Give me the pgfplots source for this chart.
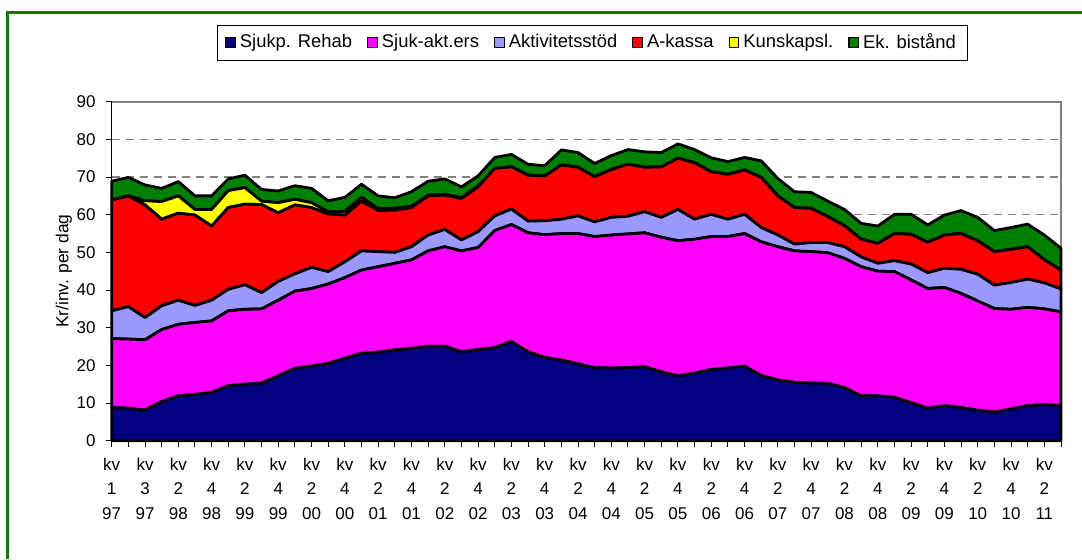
\documentclass[border=0pt]{standalone}
\usepackage{fontspec}
\setmainfont{Liberation Sans}
\usepackage{pgfplots}
\usepackage{pgfplotstable}
\pgfplotsset{compat=1.18}

\definecolor{cNavy}{RGB}{0,0,128}
\definecolor{cMag}{RGB}{255,0,255}
\definecolor{cLav}{RGB}{153,153,255}
\definecolor{cRed}{RGB}{255,0,0}
\definecolor{cYel}{RGB}{255,255,0}
\definecolor{cGrn}{RGB}{0,128,0}
\definecolor{cFrame}{RGB}{0,128,0}

\pgfplotstableread{
i sr sa ak ka ku eb
0 8.9 18.2 7.4 29.4 0 5.0
1 8.6 18.4 8.6 29.4 0 4.9
2 8.1 18.7 5.9 29.9 1.1 4.2
3 10.4 19.1 6.3 23.0 4.7 3.5
4 11.9 19.0 6.4 23.1 4.6 3.8
5 12.3 19.1 4.5 24.0 1.5 3.6
6 12.8 19.0 5.5 19.7 4.4 3.6
7 14.6 19.9 5.7 21.7 4.5 3.1
8 15.0 19.9 6.5 21.4 4.4 3.3
9 15.3 19.7 4.3 23.4 0.9 3.1
10 17.2 20.1 5.0 18.2 2.7 3.1
11 19.2 20.5 4.6 18.3 1.5 3.6
12 19.8 20.6 5.6 15.9 1.3 3.8
13 20.5 21.1 3.3 15.3 0.6 2.9
14 21.9 21.4 4.2 12.4 1.0 3.7
15 23.2 22.1 5.1 13.2 1.0 3.5
16 23.5 22.7 4.0 10.9 0.5 3.4
17 24.1 23.0 2.9 11.2 0.5 2.8
18 24.5 23.5 3.5 10.4 0.3 3.9
19 25.1 25.3 4.2 10.4 0.2 3.7
20 25.1 26.4 4.6 9.1 0.2 4.1
21 23.6 26.8 2.9 11.0 0.2 2.9
22 24.2 27.1 4.2 11.9 0.2 2.7
23 24.7 31.1 3.9 12.6 0 2.9
24 26.3 31.1 4.1 11.2 0 3.3
25 23.6 31.6 3.1 12.2 0 2.9
26 22.1 32.6 3.7 11.9 0 2.7
27 21.4 33.6 3.8 14.4 0 4.0
28 20.4 34.6 4.7 12.9 0 3.9
29 19.4 34.8 3.9 12.0 0 3.5
30 19.3 35.3 4.7 12.7 0 3.7
31 19.4 35.5 4.7 13.8 0 3.9
32 19.6 35.6 5.6 11.8 0 4.1
33 18.3 35.7 5.3 13.4 0 3.8
34 17.2 35.9 8.3 13.6 0 3.8
35 17.9 35.6 5.3 15.0 0 3.5
36 18.9 35.3 5.9 11.3 0 3.7
37 19.3 34.9 4.6 11.9 0 3.4
38 19.8 35.2 5.1 11.8 0 3.3
39 17.3 35.5 3.8 13.3 0 4.4
40 16.1 35.4 3.1 10.4 0 4.6
41 15.5 34.9 1.8 9.7 0 4.2
42 15.3 34.9 2.4 9.1 0 4.2
43 15.2 34.7 2.7 6.9 0 4.1
44 14.1 34.3 3.1 5.6 0 4.3
45 11.9 34.3 2.6 4.7 0 4.2
46 11.9 33.1 2.1 5.3 0 4.6
47 11.5 33.4 2.9 7.2 0 5.1
48 10.1 32.6 4.2 7.9 0 5.3
49 8.6 31.8 4.2 8.1 0 4.6
50 9.3 31.4 5.1 8.8 0 5.3
51 8.8 30.3 6.4 9.5 0 6.1
52 8.1 29.0 7.1 8.9 0 6.2
53 7.6 27.5 6.2 8.9 0 5.6
54 8.4 26.5 7.1 8.8 0 5.8
55 9.3 26.1 7.5 8.6 0 6.0
56 9.6 25.4 6.9 6.1 0 6.6
57 9.3 24.9 6.1 5.0 0 5.8
}\data

\begin{document}
\begin{tikzpicture}
\begin{axis}[
  width=474.65pt, height=169.5pt, scale only axis,
  xmin=0, xmax=57, ymin=0, ymax=90,
  clip=false,
  stack plots=y,
  axis x line*=bottom, axis y line*=left,
  axis line style={black, line width=0.8pt},
  ytick={0,10,...,90},
  xtick={0,2,...,56},
  minor xtick={1,3,...,57},
  xticklabels={kv\\1\\97, kv\\3\\97, kv\\2\\98, kv\\4\\98, kv\\2\\99, kv\\4\\99, kv\\2\\00, kv\\4\\00, kv\\2\\01, kv\\4\\01, kv\\2\\02, kv\\4\\02, kv\\2\\03, kv\\4\\03, kv\\2\\04, kv\\4\\04, kv\\2\\05, kv\\4\\05, kv\\2\\06, kv\\4\\06, kv\\2\\07, kv\\4\\07, kv\\2\\08, kv\\4\\08, kv\\2\\09, kv\\4\\09, kv\\2\\10, kv\\4\\10, kv\\2\\11},
  tick align=outside,
  major tick length=3pt, minor tick length=3pt,
  tick style={black, line width=0.5pt},
  /pgf/number format/assume math mode=true,
  yticklabel style={font=\fontsize{8.5}{10}\selectfont, xshift=-1.5pt},
  xticklabel style={font=\fontsize{8.5}{12.3}\selectfont, align=center, yshift=-2pt},
  ymajorgrids,
  major grid style={dash pattern=on 4pt off 3pt, gray, line width=0.6pt},
  ylabel={Kr/inv. per dag},
  every axis y label/.style={at={(axis description cs:-0.0505,0.5)}, rotate=90, anchor=center, font=\fontsize{8.7}{10}\selectfont},
  legend columns=6,
  legend style={at={(axis description cs:0.5065,1.1746)}, anchor=center, draw=black, line width=0.5pt,
    font=\fontsize{9.2}{11}\selectfont, inner xsep=4pt, inner ysep=2.3pt,
    /tikz/every even column/.append style={column sep=5.5pt}},
  legend image code/.code={\draw[#1, draw=black, line width=0.6pt] (0pt,-2.4pt) rectangle (4.8pt,2.4pt);},
  every axis plot/.append style={draw=black, line width=1.4pt, line join=round},
]
\addplot[fill=cNavy] table[x=i,y=sr]{\data} \closedcycle;
\addplot[fill=cMag] table[x=i,y=sa]{\data} \closedcycle;
\addplot[fill=cLav] table[x=i,y=ak]{\data} \closedcycle;
\addplot[fill=cRed] table[x=i,y=ka]{\data} \closedcycle;
\addplot[fill=cYel] table[x=i,y=ku]{\data} \closedcycle;
\addplot[fill=cGrn] table[x=i,y=eb]{\data} \closedcycle;
\legend{Sjukp. Rehab, Sjuk-akt.ers, Aktivitetsstöd, A-kassa, Kunskapsl., Ek. bistånd}
\draw[gray, line width=1pt] (rel axis cs:0,1) -- (rel axis cs:1,1) -- (rel axis cs:1,0);
\coordinate (O) at (rel axis cs:0,0);
\end{axis}
\path (O) ++(-55.85pt,-59.15pt) coordinate (BL);
\pgfresetboundingbox
\useasboundingbox (BL) rectangle ++(541pt,279.5pt);
\draw[cFrame, line width=1.5pt] (BL) ++(4pt,0pt) -- ++(0pt,273.25pt) -- ++(537pt,0pt);
\end{tikzpicture}
\end{document}
